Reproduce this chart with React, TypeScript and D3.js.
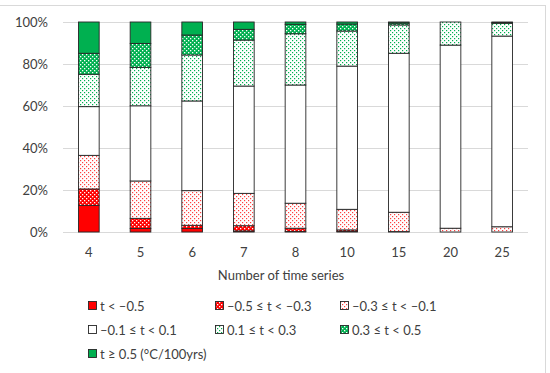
import * as d3 from "d3";
import React, { useEffect, useRef } from "react";

// number of time series (categories)
const categories = ["4", "5", "6", "7", "8", "10", "15", "20", "25"];

// share (%) of each trend class per category, bottom to top
const tLtM05 = [12.7, 1.7, 1.7, 0.5, 0.3, 0.3, 0, 0, 0];
const tM05toM03 = [7.8, 4.8, 1.5, 2.5, 1.5, 0.7, 0.2, 0, 0];
const tM03toM01 = [16, 17.8, 16.5, 15.4, 11.9, 9.8, 9.2, 1.8, 2.5];
const tM01to01 = [23.2, 35.8, 42.7, 51.1, 56.3, 68.2, 75.7, 87.2, 90.8];
const t01to03 = [15.4, 18.3, 21.9, 21.9, 24.4, 16.7, 13.5, 11, 6.1];
const t03to05 = [10, 11.4, 9.5, 5.1, 4.5, 3.3, 0.9, 0, 0.3];
const tGe05 = [14.9, 10.2, 6.2, 3.5, 1.1, 1.0, 0.5, 0, 0.3];

const seriesNames = [
  "t < \u20130.5",
  "\u20130.5 \u2264 t < \u20130.3",
  "\u20130.3 \u2264 t < \u20130.1",
  "\u20130.1 \u2264 t < 0.1",
  "0.1 \u2264 t < 0.3",
  "0.3 \u2264 t < 0.5",
  "t \u2265 0.5 (\u00b0C/100yrs)",
];
const seriesValues = [tLtM05, tM05toM03, tM03toM01, tM01to01, t01to03, t03to05, tGe05];
const yTicks = [0, 20, 40, 60, 80, 100];

const fills = [
  "#ff0000",
  "url(#p-reddot)",
  "url(#p-lightred)",
  "#ffffff",
  "url(#p-lightgreen)",
  "url(#p-greendot)",
  "#00b050",
];

const App: React.FC = () => {
  const ref = useRef<SVGSVGElement | null>(null);

  useEffect(() => {
    if (!ref.current) return;
    const svg = d3.select(ref.current);
    svg.selectAll("*").remove();

    const width = 550;
    const height = 373;
    const margin = { top: 22, left: 63, right: 22, bottom: 141 };
    const font = "Lato, 'Open Sans', sans-serif";

    // patterns for the dotted classes
    const defs = svg.append("defs");
    const addPattern = (id: string, bg: string, dot: string, size: number) => {
      const p = defs
        .append("pattern")
        .attr("id", id)
        .attr("width", 4)
        .attr("height", 4)
        .attr("patternUnits", "userSpaceOnUse");
      p.append("rect").attr("width", 4).attr("height", 4).attr("fill", bg);
      p.append("rect").attr("x", 0).attr("y", 0).attr("width", size).attr("height", size).attr("fill", dot);
      p.append("rect").attr("x", 2).attr("y", 2).attr("width", size).attr("height", size).attr("fill", dot);
    };
    addPattern("p-reddot", "#ff0000", "#ffffff", 1.3);
    addPattern("p-lightred", "#ffffff", "#ff4040", 1.2);
    addPattern("p-lightgreen", "#ffffff", "#00b050", 1.2);
    addPattern("p-greendot", "#00b050", "#ffffff", 1.3);

    svg.append("rect").attr("width", width).attr("height", height).attr("fill", "#fff");
    // chart area frame
    svg
      .append("rect")
      .attr("x", -2)
      .attr("y", 5.5)
      .attr("width", 547.5)
      .attr("height", 380)
      .attr("fill", "none")
      .attr("stroke", "#d9d9d9");

    const x = d3
      .scaleBand()
      .domain(categories)
      .range([margin.left, width - margin.right])
      .paddingInner(0.6)
      .paddingOuter(0.3);

    const y = d3
      .scaleLinear()
      .domain([0, 100])
      .range([height - margin.bottom, margin.top]);

    // gridlines
    svg
      .append("g")
      .selectAll("line")
      .data(yTicks)
      .join("line")
      .attr("x1", margin.left)
      .attr("x2", width - margin.right)
      .attr("y1", (d) => Math.round(y(d)) + 0.5)
      .attr("y2", (d) => Math.round(y(d)) + 0.5)
      .attr("stroke", "#d9d9d9");

    // y labels
    svg
      .append("g")
      .selectAll("text")
      .data(yTicks)
      .join("text")
      .attr("x", 48)
      .attr("y", (d) => y(d))
      .attr("dy", "0.35em")
      .attr("text-anchor", "end")
      .attr("font-family", font)
      .attr("font-size", 13)
      .attr("fill", "#404040")
      .text((d) => `${d}%`);

    // stacked bars
    const table = categories.map((c, i) => {
      const row: Record<string, number | string> = { cat: c };
      seriesValues.forEach((s, k) => (row[k] = s[i]));
      return row;
    });
    const stack = d3
      .stack<Record<string, number | string>>()
      .keys(seriesValues.map((_, k) => String(k)));
    const layers = stack(table as any);

    layers.forEach((layer, k) => {
      svg
        .append("g")
        .selectAll("rect")
        .data(layer.filter((d) => d[1] - d[0] > 0))
        .join("rect")
        .attr("x", (d) => x(d.data.cat as string)!)
        .attr("width", x.bandwidth())
        .attr("y", (d) => y(d[1]))
        .attr("height", (d) => y(d[0]) - y(d[1]))
        .attr("fill", fills[k])
        .attr("stroke", "#262626")
        .attr("stroke-width", 0.9);
    });

    // x labels
    svg
      .append("g")
      .selectAll("text")
      .data(categories)
      .join("text")
      .attr("x", (d) => x(d)! + x.bandwidth() / 2)
      .attr("y", 257)
      .attr("text-anchor", "middle")
      .attr("font-family", font)
      .attr("font-size", 13)
      .attr("fill", "#404040")
      .text((d) => d);

    svg
      .append("text")
      .attr("x", 281)
      .attr("y", 280)
      .attr("text-anchor", "middle")
      .attr("font-family", font)
      .attr("font-size", 13)
      .attr("fill", "#404040")
      .text("Number of time series");

    // legend
    const colX = [88, 215, 340];
    const rowY = [306, 330, 354];
    const leg = svg
      .append("g")
      .selectAll("g")
      .data(seriesNames)
      .join("g")
      .attr("transform", (_, i) => `translate(${colX[i % 3]},${rowY[Math.floor(i / 3)]})`);
    leg
      .append("rect")
      .attr("x", 0.5)
      .attr("y", -4.5)
      .attr("width", 8)
      .attr("height", 8)
      .attr("fill", (_, i) => fills[i])
      .attr("stroke", "#262626")
      .attr("stroke-width", 0.9);
    leg
      .append("text")
      .attr("x", 12)
      .attr("y", 0)
      .attr("dy", "0.35em")
      .attr("font-family", font)
      .attr("font-size", 13)
      .attr("fill", "#404040")
      .text((d) => d);
  }, []);

  return (
    <svg
      ref={ref}
      width={550}
      height={373}
      style={{ position: "absolute", left: 0, top: 0 }}
    ></svg>
  );
};

export default App;
